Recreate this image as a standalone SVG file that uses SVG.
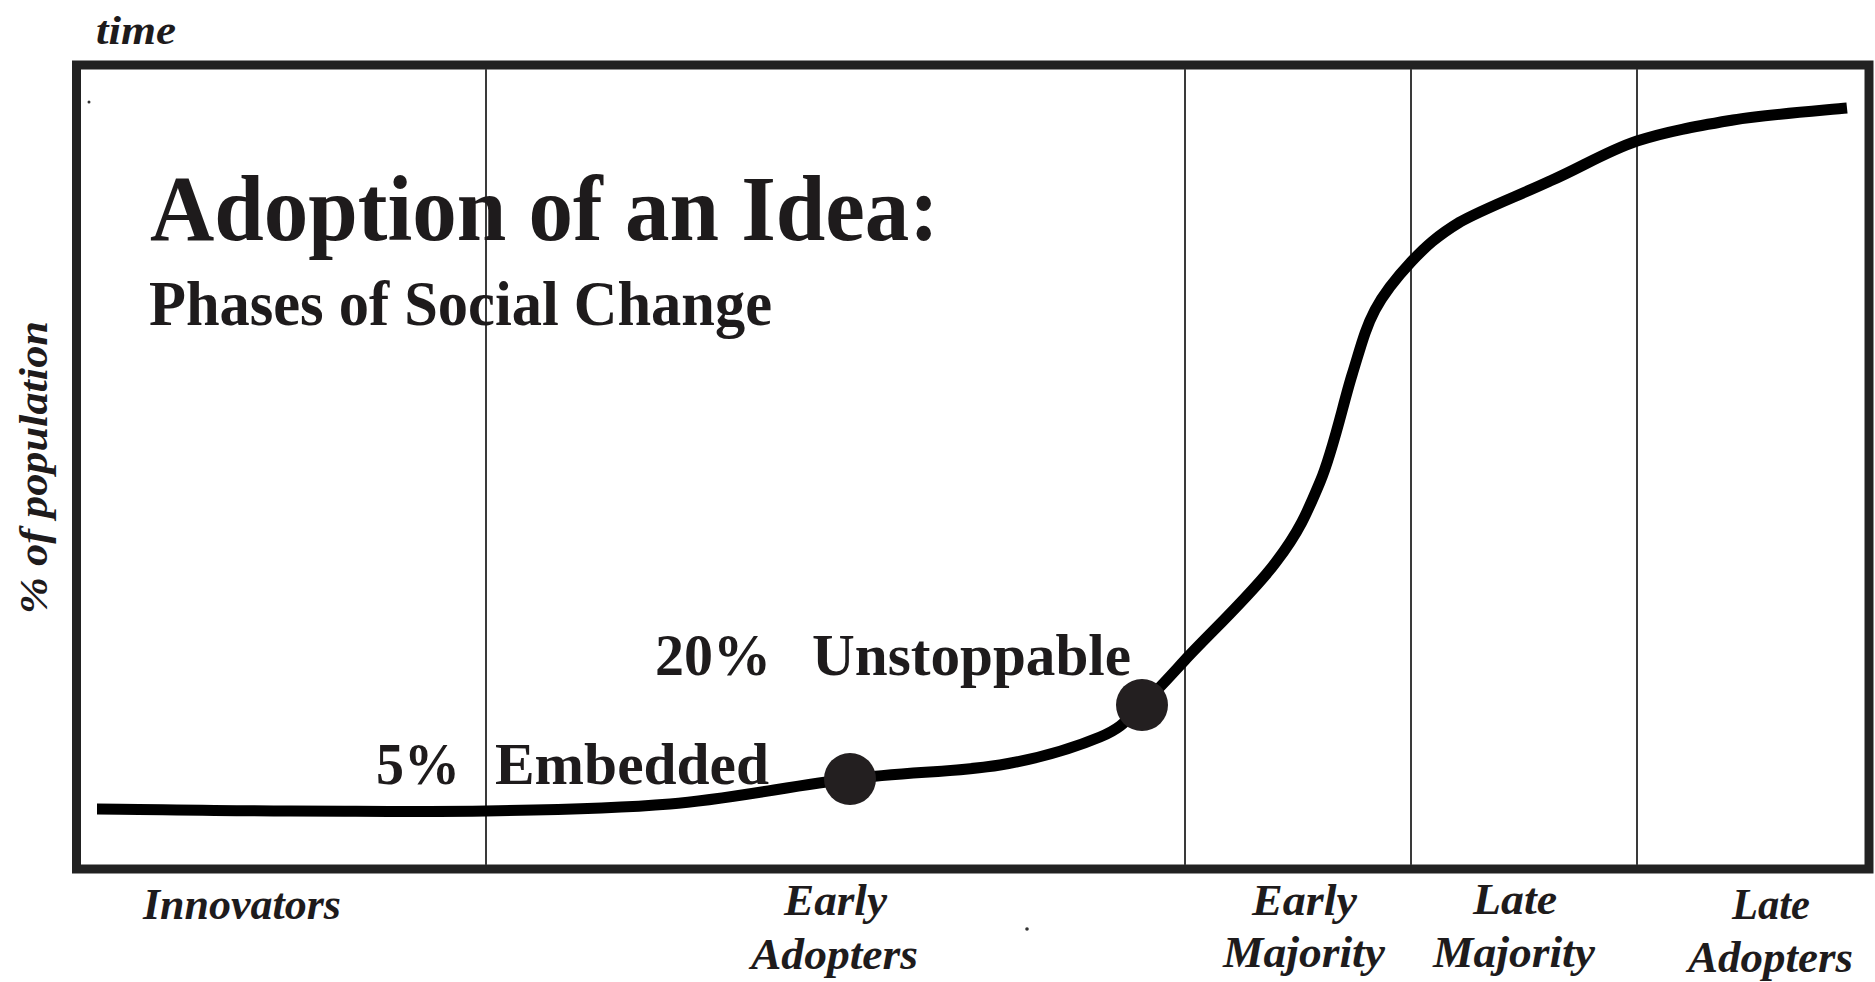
<svg xmlns="http://www.w3.org/2000/svg" width="1875" height="982" viewBox="0 0 1875 982">
<style>
.serif{font-family:"Liberation Serif","Times New Roman",serif;fill:#1e1b1c;font-weight:bold}
.it{font-style:italic}
.divider{stroke:#3a3a3a;stroke-width:2;fill:none}
.dot{fill:#231f20}
.speck{fill:#333}
</style>
<rect width="1875" height="982" fill="#ffffff"/>
<g id="axis-labels">
<text class="serif it" x="96" y="44" font-size="40" textLength="80" lengthAdjust="spacingAndGlyphs">time</text>
<text class="serif it" x="47" y="614" font-size="40" textLength="293" lengthAdjust="spacingAndGlyphs" transform="rotate(-90 47 614)">% of population</text>
</g>
<g id="frame">
<rect x="76.5" y="65" width="1792.5" height="804" fill="none" stroke="#222" stroke-width="9"/>
</g>
<g id="phase-dividers">
<line class="divider" x1="486" y1="69" x2="486" y2="865"/>
<line class="divider" x1="1185" y1="69" x2="1185" y2="865"/>
<line class="divider" x1="1411" y1="69" x2="1411" y2="865"/>
<line class="divider" x1="1637" y1="69" x2="1637" y2="865"/>
</g>
<g id="title">
<text class="serif" x="150" y="240" font-size="94" textLength="789" lengthAdjust="spacingAndGlyphs">Adoption of an Idea:</text>
<text class="serif" x="149" y="325" font-size="63" textLength="623" lengthAdjust="spacingAndGlyphs">Phases of Social Change</text>
</g>
<g id="connectors">
<path id="adoption-curve" d="M97,809 C129,809 225,811 290,811 C355,811 423,812 486,811 C549,810 609,809 670,804 C731,799 795,785 850,779 C905,772 958,772 1000,765 C1042,758 1076,747 1100,737 C1124,727 1128,718 1142,705 C1156,692 1163,684 1185,660 C1207,636 1254,592 1276,562 C1299,532 1307,513 1320,482 C1333,451 1343,404 1352,375 C1361,346 1365,329 1375,310 C1385,291 1397,277 1411,262 C1425,247 1437,236 1460,222 C1483,209 1520,195 1550,181 C1580,168 1607,151 1637,141 C1668,131 1698,126 1733,120 C1768,114.5 1828,110 1847,108" fill="none" stroke="#000" stroke-width="11"/>
</g>
<g id="node-embedded">
<circle class="dot" cx="850" cy="779" r="26"/>
<text class="serif" x="376" y="784" font-size="59" textLength="84" lengthAdjust="spacingAndGlyphs">5%</text>
<text class="serif" x="495" y="784" font-size="59" textLength="274" lengthAdjust="spacingAndGlyphs">Embedded</text>
</g>
<g id="node-unstoppable">
<circle class="dot" cx="1142" cy="705" r="26"/>
<text class="serif" x="655" y="675" font-size="60" textLength="116" lengthAdjust="spacingAndGlyphs">20%</text>
<text class="serif" x="812" y="675" font-size="60" textLength="319" lengthAdjust="spacingAndGlyphs">Unstoppable</text>
</g>
<g id="phase-innovators">
<text class="serif it" x="143" y="919" font-size="44" textLength="198" lengthAdjust="spacingAndGlyphs">Innovators</text>
</g>
<g id="phase-early-adopters">
<text class="serif it" x="784" y="915" font-size="44" textLength="103" lengthAdjust="spacingAndGlyphs">Early</text>
<text class="serif it" x="751" y="969" font-size="44" textLength="167" lengthAdjust="spacingAndGlyphs">Adopters</text>
</g>
<g id="phase-early-majority">
<text class="serif it" x="1252" y="915" font-size="44" textLength="105" lengthAdjust="spacingAndGlyphs">Early</text>
<text class="serif it" x="1223" y="967" font-size="44" textLength="162" lengthAdjust="spacingAndGlyphs">Majority</text>
</g>
<g id="phase-late-majority">
<text class="serif it" x="1473" y="914" font-size="44" textLength="84" lengthAdjust="spacingAndGlyphs">Late</text>
<text class="serif it" x="1433" y="967" font-size="44" textLength="162" lengthAdjust="spacingAndGlyphs">Majority</text>
</g>
<g id="phase-late-adopters">
<text class="serif it" x="1732" y="919" font-size="44" textLength="78" lengthAdjust="spacingAndGlyphs">Late</text>
<text class="serif it" x="1688" y="972" font-size="44" textLength="165" lengthAdjust="spacingAndGlyphs">Adopters</text>
</g>
<g id="specks">
<circle class="speck" cx="89" cy="102" r="1.5"/>
<circle class="speck" cx="1027" cy="929" r="1.8"/>
</g>
</svg>
